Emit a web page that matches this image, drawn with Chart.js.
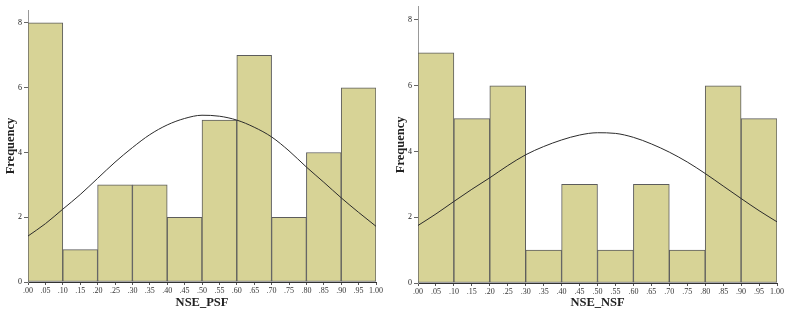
<!DOCTYPE html>
<html>
<head>
<meta charset="utf-8">
<script src="https://cdn.jsdelivr.net/npm/chart.js@4/dist/chart.umd.min.js"></script>
<style>
  body { margin: 0; background: #fff; }
  #wrap { position: relative; width: 785px; height: 310px; }
  .box { position: absolute; top: 0; height: 310px; }
</style>
</head>
<body>
<div id="wrap">
  <div class="box" style="left:0;width:390px"><canvas id="psf"></canvas></div>
  <div class="box" style="left:390px;width:395px"><canvas id="nsf"></canvas></div>
</div>
<script>
// histogram bins (width .10), given by their centres
const binCenters = [.05, .15, .25, .35, .45, .55, .65, .75, .85, .95];
const psfCounts = [8, 1, 3, 3, 2, 5, 7, 2, 4, 6];
const nsfCounts = [7, 5, 6, 1, 3, 1, 3, 1, 6, 5];

// normal curve, every .05
const curveX = [0, .05, .10, .15, .20, .25, .30, .35, .40, .45, .50, .55, .60, .65, .70, .75, .80, .85, .90, .95, 1.00];
const psfCurve = [1.42, 1.8, 2.25, 2.7, 3.2, 3.7, 4.15, 4.55, 4.85, 5.05, 5.15, 5.12, 5.0, 4.78, 4.48, 4.05, 3.55, 3.08, 2.6, 2.15, 1.72];
const nsfCurve = [1.75, 2.1, 2.48, 2.85, 3.2, 3.57, 3.9, 4.15, 4.35, 4.5, 4.57, 4.55, 4.43, 4.23, 3.98, 3.68, 3.33, 2.95, 2.57, 2.2, 1.86];

const xTickLabels = ['.00', '.05', '.10', '.15', '.20', '.25', '.30', '.35', '.40', '.45', '.50',
                     '.55', '.60', '.65', '.70', '.75', '.80', '.85', '.90', '.95', '1.00'];
const yTicks = [0, 2, 4, 6, 8];

const serif = 'Liberation Serif, Times New Roman, serif';

function makeHist(id, counts, curve, title, pad, xHeight) {
    const ctx = document.getElementById(id).getContext('2d');
    return new Chart(ctx, {
        data: {
            datasets: [{
                type: 'line',
                data: curveX.map((x, i) => ({ x: x, y: curve[i] })),
                borderColor: '#2b2b2b',
                borderWidth: 1,
                pointRadius: 0,
                fill: false,
                cubicInterpolationMode: 'monotone',
                order: 0
            }, {
                type: 'bar',
                data: binCenters.map((x, i) => ({ x: x, y: counts[i] })),
                backgroundColor: 'rgb(215, 211, 150)',
                borderColor: '#5c5c5c',
                borderWidth: 1,
                borderSkipped: false,
                barThickness: 'flex',
                barPercentage: 1,
                categoryPercentage: 1,
                order: 1
            }]
        },
        options: {
            responsive: true,
            maintainAspectRatio: false,
            animation: false,
            layout: { padding: pad },
            plugins: { legend: { display: false }, tooltip: { enabled: false } },
            scales: {
                x: {
                    type: 'linear',
                    position: 'bottom',
                    min: 0,
                    max: 1,
                    offset: false,
                    afterFit: (s) => { s.height = xHeight; },
                    border: { color: '#333', width: 1 },
                    grid: { drawOnChartArea: false, offset: false, tickLength: 3, color: '#555' },
                    ticks: {
                        stepSize: 0.05,
                        autoSkip: false,
                        maxRotation: 0,
                        padding: 1,
                        color: '#333',
                        font: { family: serif, size: 8 },
                        callback: (v, i) => xTickLabels[i]
                    },
                    title: {
                        display: true,
                        text: title,
                        color: '#222',
                        padding: { top: 0, bottom: 0 },
                        font: { family: serif, size: 12.5, weight: 'bold' }
                    }
                },
                y: {
                    min: 0,
                    max: 8.4,
                    bounds: 'data',
                    afterFit: (s) => { s.width = 28; },
                    afterBuildTicks: (s) => { s.ticks = yTicks.map(v => ({ value: v })); },
                    border: { color: '#999', width: 1 },
                    grid: { drawOnChartArea: false, tickLength: 4, color: '#666' },
                    ticks: {
                        padding: 2,
                        color: '#222',
                        font: { family: serif, size: 8 }
                    },
                    title: {
                        display: true,
                        text: 'Frequency',
                        color: '#222',
                        padding: { top: 3, bottom: 0 },
                        font: { family: serif, size: 12.5, weight: 'bold' }
                    }
                }
            }
        }
    });
}

makeHist('psf', psfCounts, psfCurve, 'NSE_PSF', { top: 10, right: 14, left: 0, bottom: 0 }, 28);
makeHist('nsf', nsfCounts, nsfCurve, 'NSE_NSF', { top: 2, right: 8, left: 0, bottom: 0 }, 27);
</script>
</body>
</html>
